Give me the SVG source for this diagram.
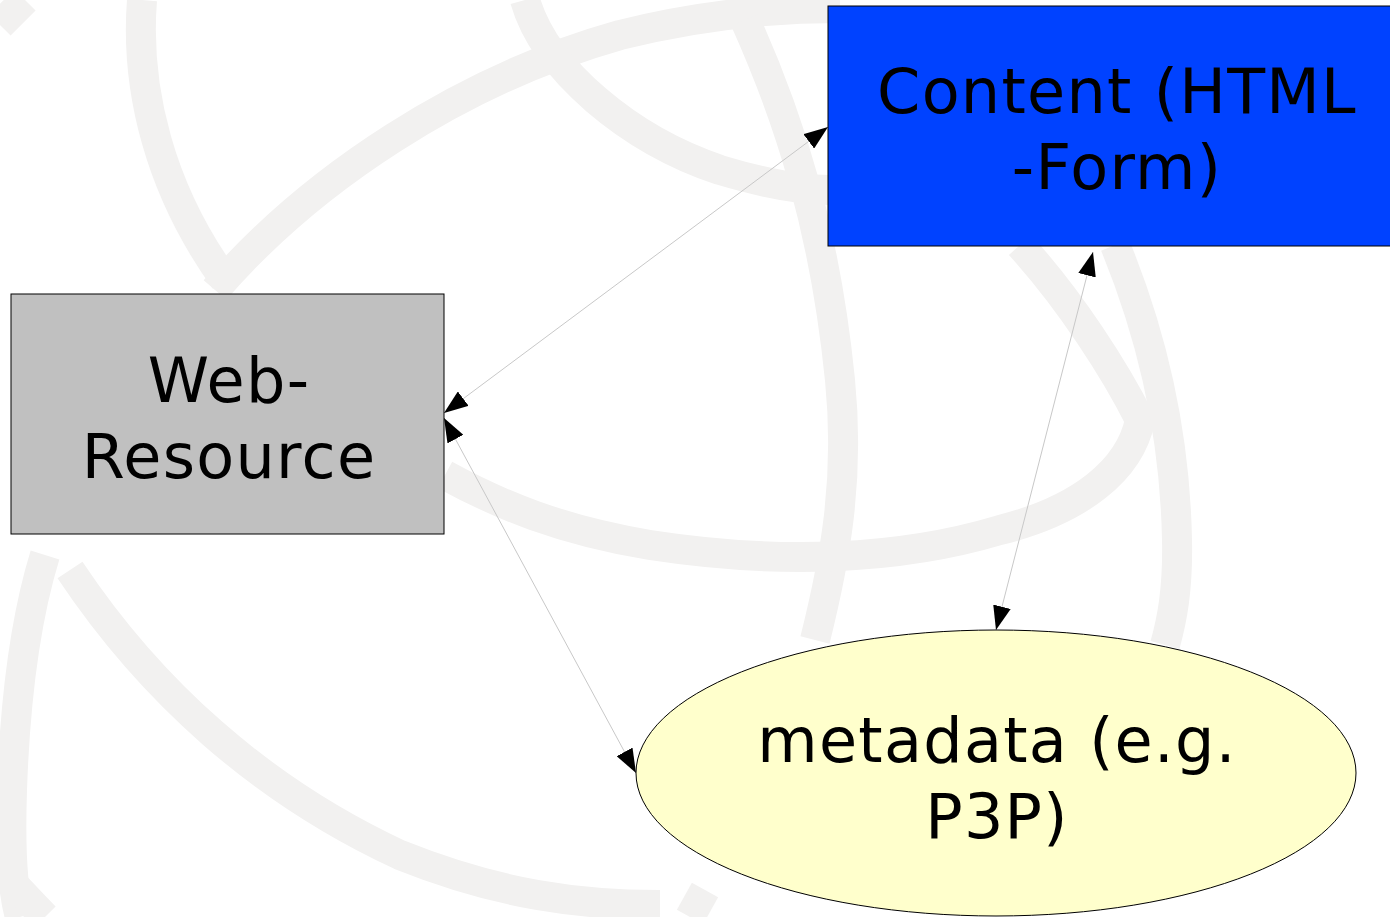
<svg xmlns="http://www.w3.org/2000/svg" width="1390" height="917" viewBox="0 0 1390 917">
<defs>
<style>
.bg{fill:none;stroke:#f2f1f0;stroke-width:30;stroke-linecap:butt}
.lbl{font-family:"DejaVu Sans","Liberation Sans",sans-serif;font-size:62px;fill:#000;text-anchor:middle;letter-spacing:1.3px}
.conn{stroke:#c8c8c8;stroke-width:1;fill:none;marker-start:url(#ah);marker-end:url(#ah)}
</style>
<marker id="ah" markerUnits="userSpaceOnUse" markerWidth="24" markerHeight="18" refX="24" refY="9" orient="auto-start-reverse" viewBox="0 0 24 18">
<path d="M0,0 L24,9 L0,18 z" fill="#000"/>
</marker>
</defs>
<rect width="1390" height="917" fill="#fff"/>
<g id="background">
<path class="bg" d="M142,0 C135,90 160,190 225,280"/>
<path class="bg" d="M215,290 C310,180 460,80 620,35 C700,15 770,8 840,8"/>
<path class="bg" d="M525,0 C545,70 630,140 720,170 C760,182 800,190 830,190"/>
<path class="bg" d="M745,20 C790,120 825,230 840,380 C850,480 835,560 815,640"/>
<path class="bg" d="M1020,245 C1070,300 1115,370 1140,420 C1130,470 1080,510 1000,530 C900,560 780,565 650,545 C560,530 500,505 445,475"/>
<path class="bg" d="M1115,245 C1150,330 1175,430 1177,540 C1178,590 1172,620 1165,645"/>
<path class="bg" d="M45,555 C25,620 15,700 12,790 C10,850 12,890 20,917"/>
<path class="bg" d="M70,570 C150,690 260,790 400,855 C500,895 580,905 660,905"/>
<path class="bg" d="M0,870 C15,885 28,900 45,917"/>
<path class="bg" d="M690,917 L705,890"/>
<path class="bg" d="M0,25 L25,0"/>
</g>
<g id="connectors">
<line class="conn" x1="444" y1="413" x2="828" y2="127"/>
<line class="conn" x1="444" y1="418" x2="636" y2="773"/>
<line class="conn" x1="1093" y1="252" x2="996" y2="630"/>
</g>
<g id="web-resource">
<rect x="11" y="294" width="433" height="240" fill="#c0c0c0" stroke="#000" stroke-width="1"/>
<text class="lbl" x="229" y="402">Web-</text>
<text class="lbl" x="229" y="478">Resource</text>
</g>
<g id="content">
<rect x="828" y="6" width="576" height="240" fill="#0042ff" stroke="#000" stroke-width="1"/>
<text class="lbl" x="1117" y="113" font-size="63">Content (HTML</text>
<text class="lbl" x="1117" y="189" font-size="63">-Form)</text>
</g>
<g id="metadata">
<ellipse cx="996" cy="773" rx="360" ry="143" fill="#ffffcc" stroke="#000" stroke-width="1"/>
<text class="lbl" x="997" y="762">metadata (e.g.</text>
<text class="lbl" x="997" y="838">P3P)</text>
</g>
</svg>
